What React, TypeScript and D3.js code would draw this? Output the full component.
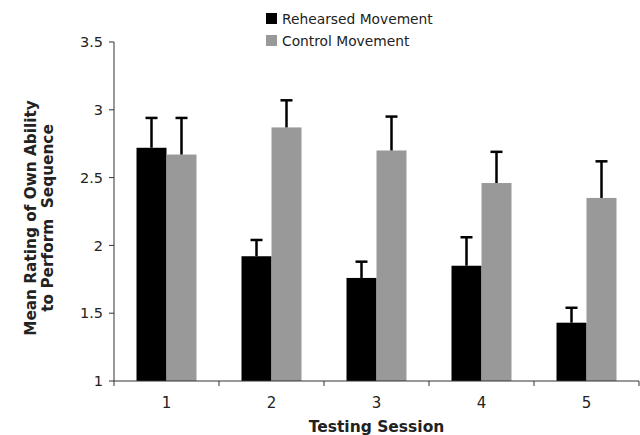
import React from "react";
import * as d3 from "d3";

// Chart data
const sessions: string[] = ["1", "2", "3", "4", "5"];
const seriesNames: string[] = ["Rehearsed Movement", "Control Movement"];
const rehearsedMeans: number[] = [2.72, 1.92, 1.76, 1.85, 1.43];
const rehearsedUpper: number[] = [2.94, 2.04, 1.88, 2.06, 1.54];
const controlMeans: number[] = [2.67, 2.87, 2.70, 2.46, 2.35];
const controlUpper: number[] = [2.94, 3.07, 2.95, 2.69, 2.62];
const yTicks: number[] = [1, 1.5, 2, 2.5, 3, 3.5];

const seriesColors: string[] = ["#000000", "#999999"];

const App: React.FC = () => {
    const width = 640;
    const height = 435;
    const marginLeft = 114;
    const marginRight = 1;
    const marginTop = 42;
    const marginBottom = 54;

    const font = "'DejaVu Sans', Verdana, sans-serif";

    // Scales
    const xScale = d3.scaleBand<string>()
        .domain(sessions)
        .range([marginLeft, width - marginRight])
        .padding(0);

    const barWidth = 30;
    const subScale = d3.scaleBand<string>()
        .domain(seriesNames)
        .range([-barWidth, barWidth])
        .padding(0);

    const yScale = d3.scaleLinear()
        .domain([1, 3.5])
        .range([height - marginBottom, marginTop]);

    const series = [
        { name: seriesNames[0], means: rehearsedMeans, upper: rehearsedUpper, color: seriesColors[0] },
        { name: seriesNames[1], means: controlMeans, upper: controlUpper, color: seriesColors[1] },
    ];

    const x0 = marginLeft;
    const yBase = yScale(1);
    const bandEdges = [...sessions.map(s => xScale(s)!), width - marginRight];

    return (
        <svg width={width} height={height} style={{ position: "absolute", left: 0, top: 0, background: "#fff" }}>
            {/* Bars */}
            {series.map((s) => (
                <g key={s.name}>
                    {sessions.map((sess, i) => {
                        const cx = xScale(sess)! + xScale.bandwidth() / 2;
                        const bx = cx + subScale(s.name)!;
                        return (
                            <rect
                                key={sess}
                                x={bx}
                                y={yScale(s.means[i])}
                                width={subScale.bandwidth()}
                                height={yBase - yScale(s.means[i])}
                                fill={s.color}
                            />
                        );
                    })}
                </g>
            ))}
            {/* Error bars */}
            {series.map((s) => (
                <g key={`err-${s.name}`} stroke="#000" strokeWidth={2.5}>
                    {sessions.map((sess, i) => {
                        const cx = xScale(sess)! + xScale.bandwidth() / 2 + subScale(s.name)! + subScale.bandwidth() / 2;
                        return (
                            <g key={sess}>
                                <line x1={cx} x2={cx} y1={yScale(s.means[i])} y2={yScale(s.upper[i])} />
                                <line x1={cx - 6} x2={cx + 6} y1={yScale(s.upper[i])} y2={yScale(s.upper[i])} />
                            </g>
                        );
                    })}
                </g>
            ))}
            {/* Y axis */}
            <g>
                <line x1={x0} x2={x0} y1={yScale(3.5)} y2={yBase} stroke="#333" strokeWidth={1} />
                {yTicks.map(t => (
                    <g key={t}>
                        <line x1={x0 - 5} x2={x0} y1={yScale(t)} y2={yScale(t)} stroke="#333" strokeWidth={1} />
                        <text x={x0 - 11} y={yScale(t)} dy="0.36em" textAnchor="end" fontFamily={font} fontSize={14.5} fill="#222">
                            {t}
                        </text>
                    </g>
                ))}
            </g>
            {/* X axis */}
            <g>
                <line x1={x0} x2={width - marginRight} y1={yBase} y2={yBase} stroke="#333" strokeWidth={1} />
                {bandEdges.map((e, i) => (
                    <line key={i} x1={e} x2={e} y1={yBase} y2={yBase + 5} stroke="#333" strokeWidth={1} />
                ))}
                {sessions.map(sess => (
                    <text key={sess} x={xScale(sess)! + xScale.bandwidth() / 2} y={yBase + 27} textAnchor="middle" fontFamily={font} fontSize={15} fill="#222">
                        {sess}
                    </text>
                ))}
            </g>
            {/* Axis titles */}
            <text x={(x0 + width - marginRight) / 2} y={432} textAnchor="middle" fontFamily={font} fontSize={15.5} fontWeight="bold" fill="#222">
                Testing Session
            </text>
            <g transform={`translate(0, 218) rotate(-90)`}>
                <text x={0} y={36} textAnchor="middle" fontFamily={font} fontSize={15.3} fontWeight="bold" fill="#222">
                    Mean Rating of Own Ability
                </text>
                <text x={0} y={53} textAnchor="middle" fontFamily={font} fontSize={15.3} fontWeight="bold" fill="#222" style={{ whiteSpace: "pre" }}>
                    {"to Perform  Sequence"}
                </text>
            </g>
            {/* Legend */}
            <g>
                {series.map((s, i) => (
                    <g key={`leg-${s.name}`} transform={`translate(266, ${13 + i * 22})`}>
                        <rect x={0} y={0} width={11} height={11} fill={s.color} />
                        <text x={16} y={11} fontFamily={font} fontSize={13.8} fill="#222">
                            {s.name}
                        </text>
                    </g>
                ))}
            </g>
        </svg>
    );
};

export default App;
